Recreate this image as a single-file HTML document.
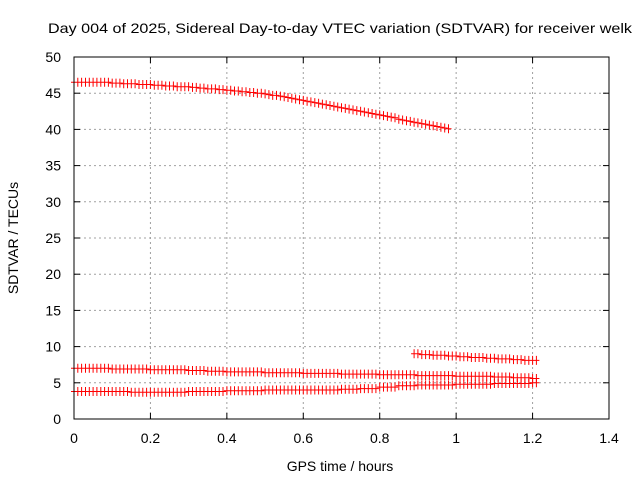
<!DOCTYPE html>
<html><head><meta charset="utf-8"><style>
html,body{margin:0;padding:0;background:#fff;}
svg{display:block;font-family:"Liberation Sans",Arial,sans-serif;}
</style></head><body>
<svg id="chart" width="640" height="480" viewBox="0 0 640 480">
<rect x="0" y="0" width="640" height="480" fill="#fff"/>
<g id="grid"></g>
<g id="series"></g>
<rect x="74" y="57" width="535" height="362" fill="none" stroke="#000" stroke-width="1"/>
<g id="ticks"></g>
<text x="340" y="33" font-size="14" text-anchor="middle" textLength="584" lengthAdjust="spacingAndGlyphs">Day 004 of 2025, Sidereal Day-to-day VTEC variation (SDTVAR) for receiver welk</text>
<text x="340" y="471" font-size="14" text-anchor="middle">GPS time / hours</text>
<text x="0" y="0" font-size="14" text-anchor="middle" transform="translate(18,238) rotate(-90)">SDTVAR / TECUs</text>
</svg>
<script>
const xTicks=[0,0.2,0.4,0.6,0.8,1,1.2,1.4];
const xTickLabels=["0","0.2","0.4","0.6","0.8","1","1.2","1.4"];
const yTicks=[0,5,10,15,20,25,30,35,40,45,50];
const yTickLabels=["0","5","10","15","20","25","30","35","40","45","50"];
const s1Start=0.00;
const s1Values=[46.5,46.5,46.5,46.5,46.5,46.5,46.5,46.5,46.5,46.5,
46.4,46.4,46.4,46.3,46.3,46.3,46.3,46.2,46.2,46.2,
46.2,46.1,46.1,46.1,46.0,46.0,46.0,45.9,45.9,45.9,
45.9,45.8,45.8,45.7,45.7,45.6,45.6,45.6,45.5,45.5,
45.4,45.4,45.3,45.3,45.2,45.2,45.1,45.1,45.0,45.0,
44.9,44.8,44.7,44.7,44.6,44.5,44.4,44.3,44.2,44.1,
44.0,43.9,43.8,43.7,43.6,43.5,43.4,43.3,43.2,43.1,
43.0,42.9,42.8,42.7,42.6,42.5,42.4,42.3,42.2,42.1,
42.0,41.9,41.8,41.7,41.6,41.4,41.3,41.2,41.1,41.0,
40.9,40.8,40.7,40.6,40.5,40.4,40.3,40.2,40.1];
const s2Start=0.00;
const s2Values=[7.0,7.0,7.0,7.0,7.0,7.0,7.0,7.0,7.0,7.0,
6.9,6.9,6.9,6.9,6.9,6.9,6.9,6.9,6.9,6.9,
6.8,6.8,6.8,6.8,6.8,6.8,6.8,6.8,6.8,6.8,
6.7,6.7,6.7,6.7,6.7,6.6,6.6,6.6,6.6,6.6,
6.5,6.5,6.5,6.5,6.5,6.5,6.5,6.5,6.5,6.5,
6.4,6.4,6.4,6.4,6.4,6.4,6.4,6.4,6.4,6.4,
6.3,6.3,6.3,6.3,6.3,6.3,6.3,6.3,6.3,6.3,
6.2,6.2,6.2,6.2,6.2,6.2,6.2,6.2,6.2,6.2,
6.1,6.1,6.1,6.1,6.1,6.1,6.1,6.1,6.1,6.1,
6.0,6.0,6.0,6.0,6.0,6.0,6.0,6.0,6.0,6.0,
5.9,5.9,5.9,5.9,5.9,5.9,5.9,5.9,5.9,5.9,
5.8,5.8,5.8,5.8,5.8,5.7,5.7,5.7,5.7,5.7,
5.6,5.6];
const s3Start=0.00;
const s3Values=[3.8,3.8,3.8,3.8,3.8,3.8,3.8,3.8,3.8,3.8,
3.8,3.8,3.8,3.8,3.8,3.7,3.7,3.7,3.7,3.7,
3.7,3.7,3.7,3.7,3.7,3.7,3.7,3.7,3.7,3.7,
3.8,3.8,3.8,3.8,3.8,3.8,3.8,3.8,3.8,3.8,
3.9,3.9,3.9,3.9,3.9,3.9,3.9,3.9,3.9,3.9,
4.0,4.0,4.0,4.0,4.0,4.0,4.0,4.0,4.0,4.0,
4.0,4.0,4.0,4.0,4.0,4.0,4.0,4.0,4.0,4.0,
4.1,4.1,4.1,4.1,4.1,4.2,4.2,4.2,4.2,4.2,
4.4,4.4,4.4,4.4,4.4,4.6,4.6,4.6,4.6,4.6,
4.7,4.7,4.7,4.7,4.7,4.7,4.7,4.7,4.7,4.7,
4.8,4.8,4.8,4.8,4.8,4.8,4.8,4.8,4.8,4.8,
4.9,4.9,4.9,4.9,4.9,4.9,4.9,4.9,4.9,4.9,
5.0,5.0];
const s4Start=0.89;
const s4Values=[9.0,9.0,8.9,8.9,8.9,8.8,8.8,8.8,8.8,8.7,8.7,8.7,8.6,8.6,8.6,8.5,8.5,8.5,8.5,8.4,8.4,8.4,8.3,8.3,8.3,8.3,8.2,8.2,8.2,8.1,8.1,8.1,8.1];
const step=0.01;

const NS="http://www.w3.org/2000/svg";
const L=74,R=609,T=57,B=419;
function xs(v){return L+(v-0)/(1.4-0)*(R-L);}
function ys(v){return B-(v-0)/(50-0)*(B-T);}
function mk(tag,parent){const e=document.createElementNS(NS,tag);parent.appendChild(e);return e;}
const grid=document.getElementById('grid'),ticks=document.getElementById('ticks'),ser=document.getElementById('series');
xTicks.forEach((v,i)=>{
  const x=xs(v);
  if(i>0&&i<xTicks.length-1){
    const g=mk('line',grid);
    
    
    g.setAttribute('x1',x);g.setAttribute('x2',x);g.setAttribute('y1',T);g.setAttribute('y2',B);
    g.setAttribute('stroke','#a0a0a0');g.setAttribute('stroke-dasharray','2,3');
  }
  const t=mk('line',ticks);
  
  
  t.setAttribute('x1',x);t.setAttribute('x2',x);t.setAttribute('y1',B);t.setAttribute('y2',B-6);t.setAttribute('stroke','#000');
  const t2=mk('line',ticks);
  
  
  t2.setAttribute('x1',x);t2.setAttribute('x2',x);t2.setAttribute('y1',T);t2.setAttribute('y2',T+6);t2.setAttribute('stroke','#000');
  const lb=mk('text',ticks);
  
  
  lb.setAttribute('x',x);lb.setAttribute('y',443);lb.setAttribute('font-size','14');lb.setAttribute('text-anchor','middle');
  lb.textContent=xTickLabels[i];
});
yTicks.forEach((v,i)=>{
  const y=ys(v);
  if(i>0&&i<yTicks.length-1){
    const g=mk('line',grid);
    
    
    g.setAttribute('x1',L);g.setAttribute('x2',R);g.setAttribute('y1',y);g.setAttribute('y2',y);
    g.setAttribute('stroke','#a0a0a0');g.setAttribute('stroke-dasharray','2,3');
  }
  const t=mk('line',ticks);
  
  
  t.setAttribute('x1',L);t.setAttribute('x2',L+6);t.setAttribute('y1',y);t.setAttribute('y2',y);t.setAttribute('stroke','#000');
  const t2=mk('line',ticks);
  
  
  t2.setAttribute('x1',R);t2.setAttribute('x2',R-6);t2.setAttribute('y1',y);t2.setAttribute('y2',y);t2.setAttribute('stroke','#000');
  const lb=mk('text',ticks);
  
  
  lb.setAttribute('x',61);lb.setAttribute('y',y+5);lb.setAttribute('font-size','14');lb.setAttribute('text-anchor','end');
  lb.textContent=yTickLabels[i];
});
function drawSeries(start,vals,name){
  const p=mk('path',ser);
  
  
  let d='';
  vals.forEach((v,i)=>{
    const x=xs(start+i*step),y=ys(v);
    d+='M'+(x-3).toFixed(1)+' '+y.toFixed(1)+'h6M'+x.toFixed(1)+' '+(y-4.5).toFixed(1)+'v9';
  });
  p.setAttribute('d',d);
  p.setAttribute('stroke','#ff0000');p.setAttribute('stroke-width','1');p.setAttribute('fill','none');
}
drawSeries(s1Start,s1Values,'series-upper');
drawSeries(s2Start,s2Values,'series-middle');
drawSeries(s3Start,s3Values,'series-lower');
drawSeries(s4Start,s4Values,'series-late');
</script>
</body></html>
